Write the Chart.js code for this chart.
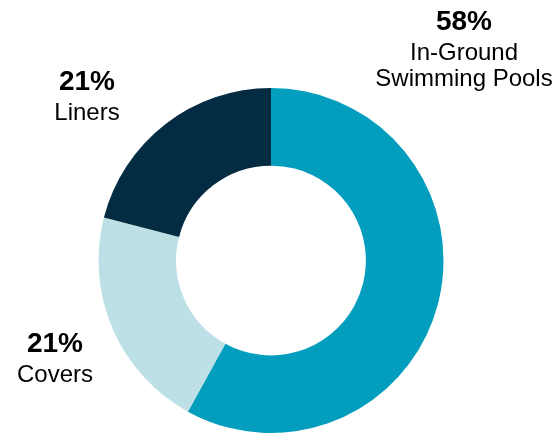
<!DOCTYPE html>
<html>
<head>
<meta charset="utf-8">
<script src="https://cdn.jsdelivr.net/npm/chart.js@4/dist/chart.umd.min.js"></script>
<style>
  html, body { margin: 0; padding: 0; background: #fff; }
  #wrap { width: 555px; height: 433px; position: relative; }
</style>
</head>
<body>
<div id="wrap"><canvas id="myChart"></canvas></div>
<script>
const categories = ['In-Ground Swimming Pools', 'Covers', 'Liners']
const shares = [58, 21, 21]
const labelLines = [['In-Ground', 'Swimming Pools'], ['Covers'], ['Liners']]
const colors = ['#039dbd', '#bde0e6', '#032b41']

// where each label block sits, relative to the doughnut centre (x = centre of text, y = baseline of the %)
const labelAnchors = [
  { dx: 193, dy: -231 },
  { dx: -216, dy: 91 },
  { dx: -184, dy: -171 }
]

const outsideLabels = {
  id: 'outsideLabels',
  afterDraw(chart) {
    const ctx = chart.ctx
    const arc = chart.getDatasetMeta(0).data[0]
    const cx = arc.x, cy = arc.y
    ctx.save()
    ctx.fillStyle = '#000'
    ctx.textAlign = 'center'
    ctx.textBaseline = 'alphabetic'
    shares.forEach((v, i) => {
      const x = cx + labelAnchors[i].dx
      let y = cy + labelAnchors[i].dy
      ctx.font = 'bold 28px "Liberation Sans", Arial, sans-serif'
      ctx.fillText(v + '%', x, y)
      ctx.font = '24px "Liberation Sans", Arial, sans-serif'
      labelLines[i].forEach(line => {
        y += (i === 0 && line !== labelLines[i][0]) ? 26 : 30
        ctx.fillText(line, x, y)
      })
    })
    ctx.restore()
  }
}

const chart = new Chart(document.querySelector('#myChart'), {
  type: 'doughnut',
  data: {
    labels: categories,
    datasets: [{
      data: shares,
      backgroundColor: colors,
      borderWidth: 0,
      hoverOffset: 0
    }]
  },
  options: {
    responsive: true,
    maintainAspectRatio: false,
    animation: false,
    cutout: '55%',
    layout: { padding: { left: 98, right: 111, top: 88, bottom: 0 } },
    plugins: {
      legend: { display: false },
      tooltip: { enabled: false }
    }
  },
  plugins: [outsideLabels]
})
</script>
</body>
</html>
